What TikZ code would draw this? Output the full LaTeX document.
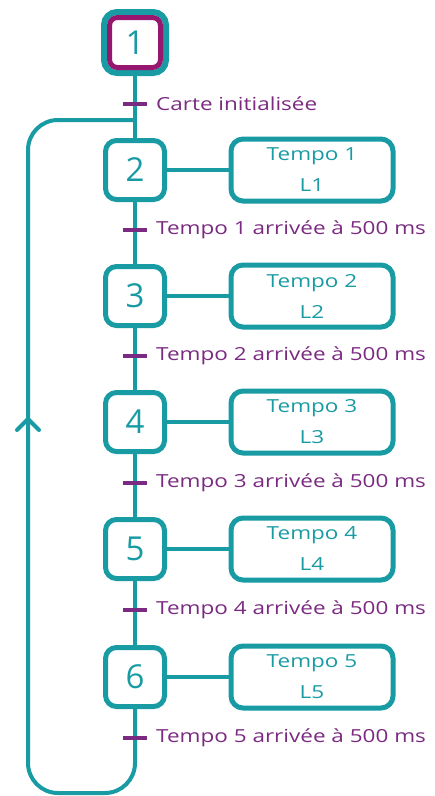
\documentclass[tikz,border=0pt]{standalone}
\usepackage{fontspec}
\setmainfont{Open Sans}
\newfontfamily\widefont[FakeStretch=1.25]{Open Sans}
\usetikzlibrary{arrows.meta,calc}
\definecolor{teal1}{RGB}{24,155,163}
\definecolor{purp}{RGB}{122,42,128}
\definecolor{mag}{RGB}{150,22,112}
\begin{document}
\begin{tikzpicture}[x=1pt,y=-1pt,
  stepbox/.style={draw=teal1,line width=5pt,rounded corners=11pt,minimum width=59pt,minimum height=59pt,inner sep=0pt,font=\fontsize{33}{33}\selectfont,text=teal1},
  actbox/.style={draw=teal1,line width=5pt,rounded corners=12pt,minimum width=162pt,minimum height=62pt,inner sep=0pt,align=center,font=\widefont\fontsize{18}{31}\selectfont,text=teal1},
  link/.style={draw=teal1,line width=4pt},
  tick/.style={draw=purp,line width=4pt},
  tlabel/.style={anchor=west,text=purp,inner sep=0pt,font=\widefont\fontsize{18}{18}\selectfont}]
\useasboundingbox (0,0) rectangle (435,796);
% step 1
\node[draw=teal1,line width=6pt,rounded corners=13pt,minimum width=62pt,minimum height=61pt,inner sep=0pt] (s1) at (135,42.5) {};
\node[draw=mag,line width=5pt,rounded corners=8pt,minimum width=51pt,minimum height=50pt,inner sep=0pt,font=\fontsize{33}{33}\selectfont,text=teal1] (s1in) at (135,42.5) {1};
% steps
\node[stepbox] (s2) at (135,170) {2};
\node[stepbox] (s3) at (135,296) {3};
\node[stepbox] (s4) at (135,422) {4};
\node[stepbox] (s5) at (135,549) {5};
\node[stepbox] (s6) at (135,677) {6};
% actions
\node[actbox] (a1) at (312,170) {Tempo 1\\L1};
\node[actbox] (a2) at (312,296) {Tempo 2\\L2};
\node[actbox] (a3) at (312,422) {Tempo 3\\L3};
\node[actbox] (a4) at (312,549) {Tempo 4\\L4};
\node[actbox] (a5) at (312,677) {Tempo 5\\L5};
% links
\draw[link] (s1.south) -- (s2.north);
\draw[link] (s2.south) -- (s3.north);
\draw[link] (s3.south) -- (s4.north);
\draw[link] (s4.south) -- (s5.north);
\draw[link] (s5.south) -- (s6.north);
\foreach \i/\j in {2/1,3/2,4/3,5/4,6/5} \draw[link] (s\i.east) -- (a\j.west);
% loop
\coordinate (br) at (135,793);
\coordinate (bl) at (28,793);
\coordinate (tl) at (28,120);
\coordinate (tj) at (135,120);
\draw[link,rounded corners=30pt] (s6.south) -- (br) -- (bl) -- (tl) -- (tj);
\coordinate (ar) at (28,419);
\draw[link,line cap=round,line join=round] ($(ar)+(-11,11)$) -- (ar) -- ($(ar)+(11,11)$);
% transitions
\foreach \y/\t in {104/Carte initialisée,230/Tempo 1 arrivée à 500 ms,356/Tempo 2 arrivée à 500 ms,483/Tempo 3 arrivée à 500 ms,610/Tempo 4 arrivée à 500 ms,738/Tempo 5 arrivée à 500 ms}{
  \draw[tick] (123,\y) -- (147,\y);
  \node[tlabel] at (156,\y) {\t};
}
\end{tikzpicture}
\end{document}
